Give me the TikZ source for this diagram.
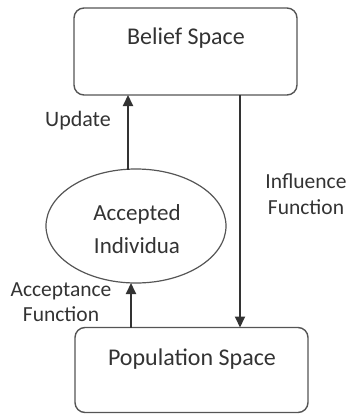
\documentclass[tikz,border=0pt]{standalone}
\usepackage{fontspec}
\setmainfont{Carlito}
\usetikzlibrary{arrows.meta,shapes.geometric}
\definecolor{ink}{HTML}{333333}
\definecolor{edge}{HTML}{555555}
\begin{document}
\begin{tikzpicture}[x=1pt,y=-1pt,
  boxst/.style={draw=edge,line width=1.4pt,rounded corners=10pt,inner sep=0pt},
  lbl/.style={text=ink,font=\fontsize{21}{25}\selectfont,align=center,inner sep=0pt},
  arr/.style={draw=ink,line width=2pt,-{Triangle[length=11pt,width=10pt]}}]
\useasboundingbox (0,0) rectangle (350,415);
\node[boxst,minimum width=223pt,minimum height=87pt] (belief) at (185.5,51.5) {};
\node[text=ink,font=\fontsize{24}{28}\selectfont,inner sep=0pt] (bt) at (186,38) {Belief Space};
\node[boxst,minimum width=233pt,minimum height=85pt] (pop) at (191.5,370) {};
\node[text=ink,font=\fontsize{24}{28}\selectfont,inner sep=0pt] (pt) at (192,359) {Population Space};
\node[ellipse,draw=edge,line width=1.2pt,minimum width=180pt,minimum height=114pt,inner sep=0pt] (acc) at (136,226) {};
\node[lbl,font=\fontsize{23}{33}\selectfont] (acct) at (137,229) {Accepted\\Individua};
\coordinate (u1) at (128,169.5);
\coordinate (u2) at (128,95);
\draw[arr] (u1) -- (u2);
\node[lbl,font=\fontsize{22}{26}\selectfont] (upd) at (78,121) {Update};
\coordinate (i1) at (240,95);
\coordinate (i2) at (240,327.5);
\draw[arr] (i1) -- (i2);
\node[lbl,font=\fontsize{21.5}{26}\selectfont] (inf) at (306,194) {Influence\\Function};
\coordinate (a1) at (131,327.5);
\coordinate (a2) at (131,283);
\draw[arr] (a1) -- (a2);
\node[lbl,font=\fontsize{21.5}{25}\selectfont] (acf) at (61,302) {Acceptance\\Function};
\end{tikzpicture}
\end{document}
